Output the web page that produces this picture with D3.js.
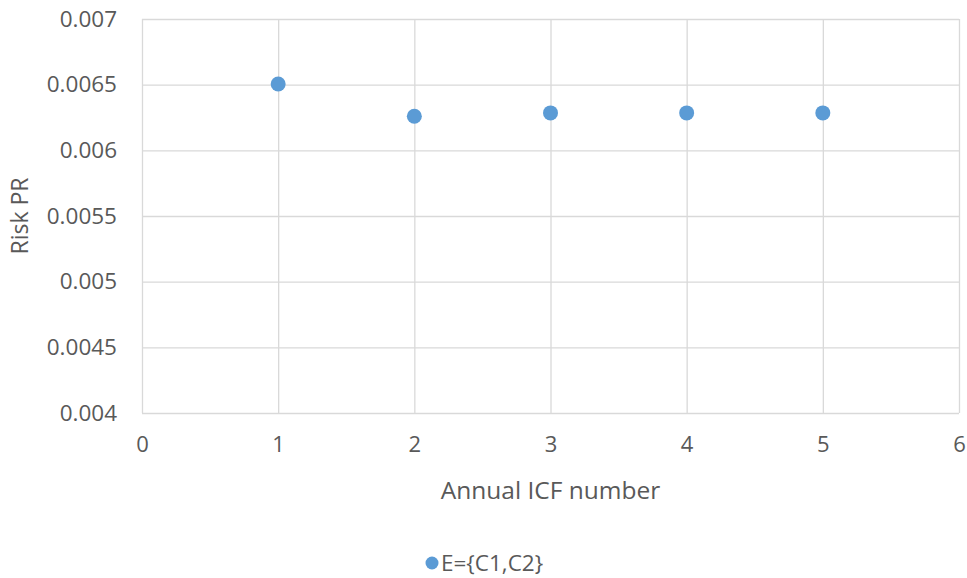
<!DOCTYPE html>
<html>
<head>
<meta charset="utf-8">
<script src="https://cdn.jsdelivr.net/npm/d3@7"></script>
<style>
  html, body { margin: 0; padding: 0; background: #fff; }
  svg { display: block; font-family: "Open Sans", sans-serif; }
</style>
</head>
<body>
<svg id="chart" width="967" height="578"></svg>
<script>
// Risk PR for each annual ICF number, series E={C1,C2}
const seriesName = "E={C1,C2}";
const icfNumbers = [1, 2, 3, 4, 5];
const riskPR = [0.006505, 0.00626, 0.006285, 0.006285, 0.006285];
const xTicks = [0, 1, 2, 3, 4, 5, 6];
const yTicks = [0.004, 0.0045, 0.005, 0.0055, 0.006, 0.0065, 0.007];

const svg = d3.select("#chart");
const margin = { left: 142, right: 8, top: 19, bottom: 165 };
const W = 967, H = 578;
const textColor = "#595959";
const gridColor = "#d9d9d9";
const dotColor = "#5b9bd5";

const x = d3.scaleLinear().domain([0, 6]).range([margin.left, W - margin.right]);
const y = d3.scaleLinear().domain([0.004, 0.007]).range([H - margin.bottom, margin.top]);

// gridlines
svg.append("g")
  .attr("transform", `translate(0,${H - margin.bottom})`)
  .call(d3.axisBottom(x).tickValues(xTicks).tickSize(-(H - margin.bottom - margin.top)).tickFormat(""))
  .call(g => g.select(".domain").remove())
  .call(g => g.selectAll("line").attr("stroke", gridColor).attr("stroke-width", 1.3));

svg.append("g")
  .attr("transform", `translate(${margin.left},0)`)
  .call(d3.axisLeft(y).tickValues(yTicks).tickSize(-(W - margin.right - margin.left)).tickFormat(""))
  .call(g => g.select(".domain").remove())
  .call(g => g.selectAll("line").attr("stroke", gridColor).attr("stroke-width", 1.3));

// tick labels
svg.append("g")
  .attr("transform", `translate(0,${H - margin.bottom})`)
  .call(d3.axisBottom(x).tickValues(xTicks).tickSize(0).tickPadding(23).tickFormat(d3.format("d")))
  .call(g => g.select(".domain").remove())
  .call(g => g.selectAll("text").attr("fill", textColor).attr("font-size", 22).attr("font-family", "Open Sans, sans-serif"));

svg.append("g")
  .attr("transform", `translate(${margin.left},0)`)
  .call(d3.axisLeft(y).tickValues(yTicks).tickSize(0).tickPadding(25).tickFormat(d => String(+d.toFixed(4))))
  .call(g => g.select(".domain").remove())
  .call(g => g.selectAll("text").attr("fill", textColor).attr("font-size", 22.5).attr("font-family", "Open Sans, sans-serif"));

// axis titles
svg.append("text")
  .attr("x", (margin.left + W - margin.right) / 2)
  .attr("y", 499)
  .attr("text-anchor", "middle")
  .attr("fill", textColor)
  .attr("font-size", 24.5)
  .text("Annual ICF number");

svg.append("text")
  .attr("transform", `translate(28,${(margin.top + H - margin.bottom) / 2}) rotate(-90)`)
  .attr("text-anchor", "middle")
  .attr("fill", textColor)
  .attr("font-size", 23)
  .text("Risk PR");

// points
svg.append("g")
  .selectAll("circle")
  .data(icfNumbers.map((n, i) => ({ n, v: riskPR[i] })))
  .join("circle")
  .attr("cx", d => x(d.n))
  .attr("cy", d => y(d.v))
  .attr("r", 7.5)
  .attr("fill", dotColor);

// legend
const legend = svg.append("g").attr("transform", "translate(432,563)");
legend.append("circle").attr("cx", 0).attr("cy", 0).attr("r", 6.5).attr("fill", dotColor);
legend.append("text")
  .attr("x", 9)
  .attr("y", 0)
  .attr("dy", "0.35em")
  .attr("fill", textColor)
  .attr("font-size", 22.5)
  .text(seriesName);
</script>
</body>
</html>
